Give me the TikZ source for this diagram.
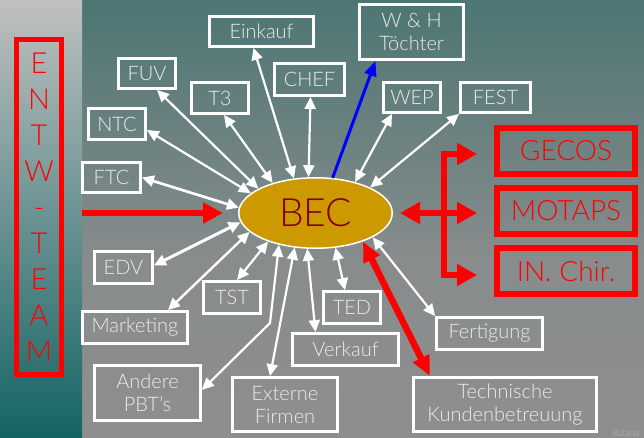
\documentclass[tikz,border=0pt]{standalone}
\usepackage{fontspec}
\setmainfont{Lato}[UprightFont={* Light}]
\usetikzlibrary{arrows.meta,calc,shapes.geometric}

\definecolor{boxtext}{RGB}{236,236,236}
\definecolor{becfill}{RGB}{204,153,0}
\definecolor{becred}{RGB}{128,0,0}
\definecolor{bgtop}{RGB}{76,118,116}
\definecolor{bgmid}{RGB}{136,140,140}
\definecolor{bgbot}{RGB}{142,142,142}
\definecolor{striptop}{RGB}{192,192,192}
\definecolor{stripmid}{RGB}{130,150,150}
\definecolor{stripbot}{RGB}{20,100,100}
\definecolor{sigcol}{RGB}{190,190,190}

\tikzset{
  lbl/.style={draw=white, line width=2.8pt, rectangle, inner sep=0pt,
    text=boxtext, font=\fontsize{20}{23}\selectfont, align=center},
  redbox/.style={draw=red, line width=6pt, rectangle, inner sep=0pt,
    text=red, font=\fontsize{28}{30}\selectfont},
  wa/.style={draw=white, line width=2.2pt,
    {Triangle[length=12pt,width=11pt]}-{Triangle[length=12pt,width=11pt]}},
  bluearr/.style={draw=blue, line width=3pt, -{Triangle[length=15pt,width=12pt]}},
  redin/.style={draw=red, line width=6.5pt, -{Triangle[length=20pt,width=20pt]}},
  reddbl/.style={draw=red, line width=6.5pt,
    {Triangle[length=20pt,width=17pt]}-{Triangle[length=20pt,width=17pt]}},
  redbr/.style={draw=red, line width=5.5pt,
    {Triangle[length=20pt,width=21pt]}-{Triangle[length=20pt,width=21pt]}}
}

\begin{document}
\begin{tikzpicture}[x=1pt,y=-1pt]
\useasboundingbox (0,0) rectangle (644,437);

% background
\shade[top color=bgtop, bottom color=bgmid] (82,0) rectangle (644,260);
\shade[top color=bgmid, bottom color=bgbot] (82,259.5) rectangle (644,437);
\shade[top color=striptop, middle color=stripmid, bottom color=stripbot] (0,0) rectangle (82,437);

% development team column
\node[draw=red, line width=5pt, minimum width=45pt, minimum height=335pt, inner sep=0pt,
      text=red, align=center, font=\fontsize{29}{36}\selectfont] (team) at (39,207)
      {E\\N\\T\\W\\-\\T\\E\\A\\M};

% central node
\node[ellipse, draw=white, line width=1.5pt, fill=becfill, minimum width=153.5pt,
      minimum height=70.5pt, inner sep=0pt, text=becred,
      font=\fontsize{39}{40}\selectfont] (bec) at (315.5,213) {BEC};

% partner boxes
\node[lbl, minimum width=104pt, minimum height=30pt] (einkauf) at (261.5,31.5) {Einkauf};
\node[lbl, minimum width=104pt, minimum height=55pt] (wh) at (411.5,32) {W \& H\\Töchter};
\node[lbl, minimum width=57pt, minimum height=30pt] (fuv) at (147,73.5) {FUV};
\node[lbl, minimum width=57pt, minimum height=31pt] (t3) at (220,98) {T3};
\node[lbl, minimum width=70pt, minimum height=32pt] (chef) at (309.5,79.5) {CHEF};
\node[lbl, minimum width=57pt, minimum height=30pt] (wep) at (412,97.5) {WEP};
\node[lbl, minimum width=70pt, minimum height=30pt] (fest) at (495.5,97.5) {FEST};
\node[lbl, minimum width=57pt, minimum height=31pt] (ntc) at (117,124) {NTC};
\node[lbl, minimum width=58pt, minimum height=30pt] (ftc) at (111.5,177.5) {FTC};
\node[lbl, minimum width=58pt, minimum height=32pt] (edv) at (123.5,267.5) {EDV};
\node[lbl, minimum width=105pt, minimum height=32pt] (marketing) at (135,327.5) {Marketing};
\node[lbl, minimum width=57pt, minimum height=32pt] (tst) at (232,297.5) {TST};
\node[lbl, minimum width=106pt, minimum height=55pt] (andere) at (147.5,393) {Andere\\PBT’s};
\node[lbl, minimum width=105pt, minimum height=54pt] (externe) at (285,404.5) {Externe\\Firmen};
\node[lbl, minimum width=57pt, minimum height=32pt] (ted) at (352,307.5) {TED};
\node[lbl, minimum width=106pt, minimum height=32pt] (verkauf) at (345.5,349.5) {Verkauf};
\node[lbl, minimum width=106pt, minimum height=32pt] (fertigung) at (489.5,333.5) {Fertigung};
\node[lbl, minimum width=183pt, minimum height=54pt] (technische) at (505,404.5) {Technische\\Kundenbetreuung};

% product boxes
\node[redbox, minimum width=138pt, minimum height=46pt] (gecos) at (566,151) {GECOS};
\node[redbox, minimum width=138pt, minimum height=46pt] (motaps) at (566,211) {MOTAPS};
\node[redbox, minimum width=138pt, minimum height=46pt] (inchir) at (566,271) {IN. Chir.};

\node[text=sigcol, font=\fontsize{9}{9}\selectfont, inner sep=0pt] (sig) at (626,433) {Roland};

% white two-way links
\draw[wa] (bec.157) -- ([xshift=10pt]fuv.south);
\draw[wa] (bec.163) -- ([yshift=-6pt]ntc.east);
\draw[wa, line width=2.7pt] (bec.176) -- (ftc.east);
\draw[wa, line width=3pt] (bec.187) -- ([yshift=2pt]edv.east);
\draw[wa, line width=2.4pt] (bec.196) -- ([xshift=33pt]marketing.north);
\draw[wa] (bec.211) -- ([xshift=5pt]tst.north);
\coordinate (andbend) at (270,323);
\draw[wa] (bec.221) -- (andbend) -- ([yshift=3pt]andere.east);
\draw[wa] (bec.239) -- ([xshift=-15pt]externe.north);
\draw[wa] (bec.257) -- ([xshift=-30pt]verkauf.north);
\draw[wa] (bec.300) -- ([xshift=-7pt]ted.north);
\draw[wa] (bec.337) -- (fertigung.north west);
\draw[wa] (bec.145) -- ([xshift=4pt]t3.south);
\draw[wa] (bec.122) -- ([xshift=-8pt]einkauf.south);
\draw[wa] (bec.101) -- ([xshift=1pt]chef.south);
\draw[wa] (bec.38) -- ([xshift=-20pt]wep.south);
\draw[wa] (bec.25) -- (fest.south west);

% blue link
\draw[bluearr] (bec.64) -- ([xshift=-36pt]wh.south);

% red links
\coordinate (teamout) at (82,213);
\draw[redin, shorten >=15pt] (teamout) -- (bec.west);
\draw[reddbl] (bec.329) -- ([xshift=-75pt]technische.north);

\coordinate (jt) at (444,154);
\coordinate (jb) at (444,275);
\draw[redbr, shorten <=17pt, shorten >=17pt] (jt -| gecos.west) -- (jt) -- (jb) -- (jb -| inchir.west);
\draw[redbr, shorten <=7pt, shorten >=17pt] (bec.east) -- (bec.east -| motaps.west);
\end{tikzpicture}
\end{document}
